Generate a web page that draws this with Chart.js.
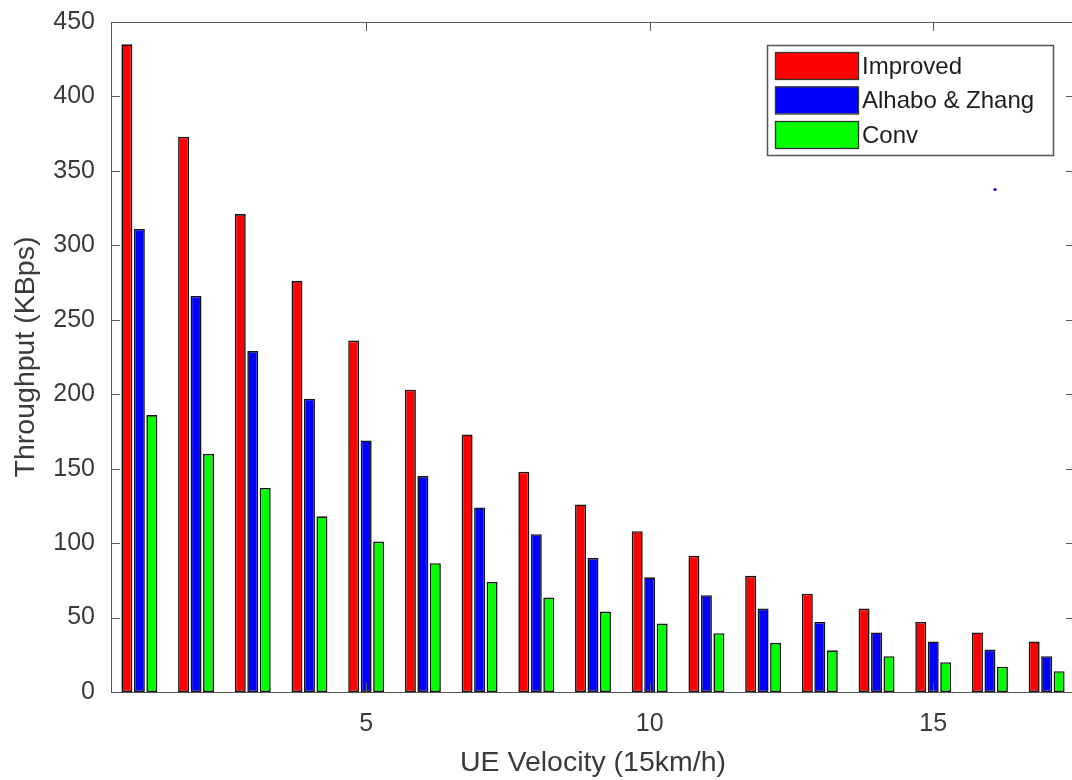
<!DOCTYPE html>
<html>
<head>
<meta charset="utf-8">
<script src="https://cdn.jsdelivr.net/npm/chart.js@4.4.1/dist/chart.umd.min.js"></script>
<style>
  html, body { margin: 0; padding: 0; background: #fff; overflow: hidden; }
  #wrap { position: relative; width: 1090px; height: 780px; }
</style>
</head>
<body>
<div id="wrap"><canvas id="throughputChart"></canvas></div>
<script>
// velocity steps (x positions) and throughput values
const velocities = [1, 2, 3, 4, 5, 6, 7, 8, 9, 10, 11, 12, 13, 14, 15, 16, 17];
const improved = [435, 373, 321, 276, 236, 203, 173, 148, 126, 108, 91.5, 78, 66, 56, 47, 40, 34];
const alhaboZhang = [311, 266, 229, 197, 169, 145, 124, 106, 90, 77, 65, 56, 47, 40, 34, 28.5, 24];
const conv = [186, 160, 137, 118, 101, 86.5, 74, 63.5, 54, 46, 39.5, 33, 28, 24, 20, 17, 14];
const strayPoint = [{ x: 16.09, y: 337.5 }];

const xTickLabels = [5, 10, 15];
const yTickLabels = [0, 50, 100, 150, 200, 250, 300, 350, 400, 450];

const COLORS = {
  red: 'rgb(255, 0, 0)',
  blue: 'rgb(0, 0, 255)',
  green: 'rgb(0, 255, 0)',
  edge: '#151515',
  axis: '#5a5a5a',
  text: '#3a3a3a'
};
const FONT = 'Liberation Sans, Arial, Helvetica, sans-serif';
const TICK_LEN = 9;

const toPoints = arr => arr.map((v, i) => ({ x: velocities[i], y: v }));

function barSet(label, values, color) {
  return {
    type: 'bar',
    label,
    data: toPoints(values),
    backgroundColor: color,
    borderColor: COLORS.edge,
    borderWidth: 1.6,
    borderSkipped: false,
    categoryPercentage: 0.66,
    barPercentage: 0.88
  };
}

// MATLAB style box: full frame, inward ticks, boxed legend inside the axes
const matlabAxes = {
  id: 'matlabAxes',
  afterDatasetsDraw(chart) {
    const { ctx, chartArea: a, scales } = chart;
    ctx.save();
    ctx.strokeStyle = COLORS.axis;
    ctx.lineWidth = 1;
    ctx.strokeRect(a.left + 0.5, a.top + 0.5, a.right - a.left, a.bottom - a.top);
    ctx.beginPath();
    scales.x.ticks.forEach(t => {
      const px = Math.round(scales.x.getPixelForValue(t.value)) + 0.5;
      ctx.moveTo(px, a.bottom); ctx.lineTo(px, a.bottom - TICK_LEN);
      ctx.moveTo(px, a.top); ctx.lineTo(px, a.top + TICK_LEN);
    });
    scales.y.ticks.forEach(t => {
      const py = Math.round(scales.y.getPixelForValue(t.value)) + 0.5;
      ctx.moveTo(a.left, py); ctx.lineTo(a.left + TICK_LEN, py);
      ctx.moveTo(a.right, py); ctx.lineTo(a.right - TICK_LEN, py);
    });
    ctx.stroke();

    // legend
    const bars = chart.data.datasets.filter(d => d.type === 'bar');
    const bx = 767, by = 45, bw = 286, bh = 110;
    ctx.fillStyle = '#fff';
    ctx.fillRect(bx, by, bw, bh);
    ctx.lineWidth = 1.5;
    ctx.strokeStyle = '#555';
    ctx.strokeRect(bx + 0.5, by + 0.5, bw, bh);
    ctx.font = '24px ' + FONT;
    ctx.textBaseline = 'middle';
    ctx.textAlign = 'left';
    bars.forEach((d, i) => {
      const ry = 52 + i * 34.5;
      ctx.fillStyle = d.backgroundColor;
      ctx.fillRect(775, ry, 83, 27);
      ctx.lineWidth = 1.3;
      ctx.strokeStyle = '#333';
      ctx.strokeRect(775.5, ry + 0.5, 83, 27);
      ctx.fillStyle = '#1e1e1e';
      ctx.fillText(d.label, 862, ry + 15);
    });
    ctx.restore();
  }
};

new Chart(document.getElementById('throughputChart').getContext('2d'), {
  type: 'bar',
  data: {
    datasets: [
      barSet('Improved', improved, COLORS.red),
      barSet('Alhabo & Zhang', alhaboZhang, COLORS.blue),
      barSet('Conv', conv, COLORS.green),
      {
        type: 'scatter',
        label: 'marker',
        data: strayPoint,
        backgroundColor: COLORS.blue,
        borderColor: COLORS.blue,
        pointRadius: 1.6,
        borderWidth: 0
      }
    ]
  },
  options: {
    responsive: true,
    maintainAspectRatio: false,
    animation: false,
    layout: { padding: { top: 22, right: 15, left: 0, bottom: 0 } },
    plugins: { legend: { display: false }, tooltip: { enabled: false } },
    scales: {
      x: {
        type: 'linear',
        min: 0.5,
        max: 17.5,
        offset: false,
        afterBuildTicks: s => { s.ticks = xTickLabels.map(v => ({ value: v })); },
        afterFit: s => { s.height = 88; s.paddingLeft = 0; s.paddingRight = 0; },
        grid: { display: false, drawTicks: false, tickLength: 0 },
        border: { display: false },
        ticks: { color: COLORS.text, font: { family: FONT, size: 25 }, padding: 17, maxRotation: 0, autoSkip: false },
        title: { display: true, text: 'UE Velocity (15km/h)', color: COLORS.text, font: { family: FONT, size: 28.5 }, padding: { top: 0, bottom: 0 } }
      },
      y: {
        min: 0,
        max: 450,
        afterBuildTicks: s => { s.ticks = yTickLabels.map(v => ({ value: v })); },
        afterFit: s => { s.width = 111; s.paddingTop = 0; s.paddingBottom = 0; },
        grid: { display: false, drawTicks: false, tickLength: 0 },
        border: { display: false },
        ticks: { color: COLORS.text, font: { family: FONT, size: 25 }, padding: 16 },
        title: { display: true, text: 'Throughput (KBps)', color: COLORS.text, font: { family: FONT, size: 28.5 }, padding: { top: 9, bottom: 0 } }
      }
    }
  },
  plugins: [matlabAxes]
});
</script>
</body>
</html>
